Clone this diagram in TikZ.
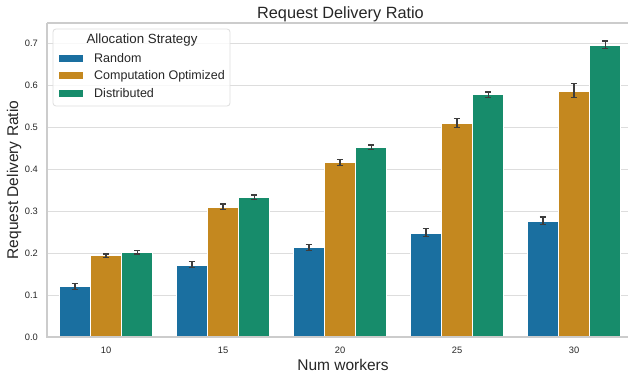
\documentclass[tikz,border=0pt]{standalone}
\usepackage{fontspec}
\setmainfont{Liberation Sans}
\usepackage{xcolor}
\usepackage{tikz}
\usetikzlibrary{positioning}

\definecolor{cbBlue}{HTML}{1A6FA0}
\definecolor{cbOrange}{HTML}{C4881F}
\definecolor{cbGreen}{HTML}{178C6B}
\definecolor{gridGray}{HTML}{DDDDDD}
\definecolor{spineGray}{HTML}{CCCCCC}
\definecolor{errGray}{HTML}{3D3D3D}
\definecolor{txtGray}{HTML}{262626}

\tikzset{
  gridline/.style={draw=gridGray, line width=0.9pt},
  spine/.style={draw=spineGray, line width=1.2pt},
  errbar/.style={draw=errGray, line width=1.4pt},
  ticklabel/.style={text=txtGray, font=\fontsize{9.3}{11}\selectfont, inner sep=0pt},
  axislabel/.style={text=txtGray, font=\fontsize{15.5}{17}\selectfont, inner sep=0pt},
  legpatch/.style={minimum width=24pt, minimum height=7pt, inner sep=0pt},
  legtext/.style={text=txtGray, font=\fontsize{12.5}{14}\selectfont, inner sep=0pt, anchor=west}
}

% one bar with its error bar: x, value, low, high, colour
\newcommand{\drawbar}[5]{%
  \fill[#5, draw=white, line width=0.7pt] ({#1-15.4},41) rectangle ({#1+15.4},{41+419*#2});
  \draw[errbar] (#1,{41+419*#3}) -- (#1,{41+419*#4});
  \draw[errbar] ({#1-3.2},{41+419*#3}) -- ({#1+3.2},{41+419*#3});
  \draw[errbar] ({#1-3.2},{41+419*#4}) -- ({#1+3.2},{41+419*#4});
}

\begin{document}
\begin{tikzpicture}[x=1pt, y=1pt]
  \useasboundingbox (0,0) rectangle (628,378);

  % grid and y ticks
  \foreach \t in {0,...,7} {
    \draw[gridline] (47,{41+41.9*\t}) -- (628,{41+41.9*\t});
    \node[ticklabel, anchor=east] (yt\t) at (38,{41+41.9*\t}) {0.\t};
  }

  % bars per group
  \foreach \r/\rl/\rh/\o/\ol/\oh/\d/\dl/\dh/\lab [count=\i from 0] in {
      0.120/0.114/0.127/0.194/0.190/0.198/0.202/0.198/0.207/10,
      0.172/0.166/0.180/0.310/0.304/0.317/0.333/0.328/0.339/15,
      0.213/0.206/0.221/0.416/0.409/0.424/0.453/0.448/0.458/20,
      0.248/0.240/0.259/0.510/0.500/0.521/0.578/0.572/0.585/25,
      0.276/0.268/0.286/0.587/0.572/0.605/0.697/0.689/0.706/30} {
    \pgfmathsetmacro{\cx}{106+117*\i}
    \drawbar{\cx-31.2}{\r}{\rl}{\rh}{cbBlue}
    \drawbar{\cx}{\o}{\ol}{\oh}{cbOrange}
    \drawbar{\cx+31.2}{\d}{\dl}{\dh}{cbGreen}
    \node[ticklabel] (xt\lab) at (\cx,27.5) {\lab};
  }

  % frame
  \draw[spine] (47,355) -- (47,41) -- (628,41);
  \draw[spine] (47,355) -- (628,355);

  % labels
  \node[axislabel, font=\fontsize{16.3}{18}\selectfont] (title) at (340.5,364) {Request Delivery Ratio};
  \node[axislabel] (xlabel) at (343,13) {Num workers};
  \node[axislabel, rotate=90] (ylabel) at (14,198) {Request Delivery Ratio};

  % legend
  \draw[draw=gridGray, fill=white, fill opacity=0.8, rounded corners=3pt, line width=0.8pt]
    (53,272) rectangle (230,349);
  \node[text=txtGray, font=\fontsize{13.3}{15}\selectfont, inner sep=0pt] (legtitle) at (142,338) {Allocation Strategy};
  \node[legpatch, fill=cbBlue] (legR) at (71,319.5) {};
  \node[legpatch, fill=cbOrange] (legO) at (71,302) {};
  \node[legpatch, fill=cbGreen] (legD) at (71,284.7) {};
  \node[legtext] (legRt) at (94,319.5) {Random};
  \node[legtext] (legOt) at (94,302) {Computation Optimized};
  \node[legtext] (legDt) at (94,284.7) {Distributed};
\end{tikzpicture}
\end{document}
